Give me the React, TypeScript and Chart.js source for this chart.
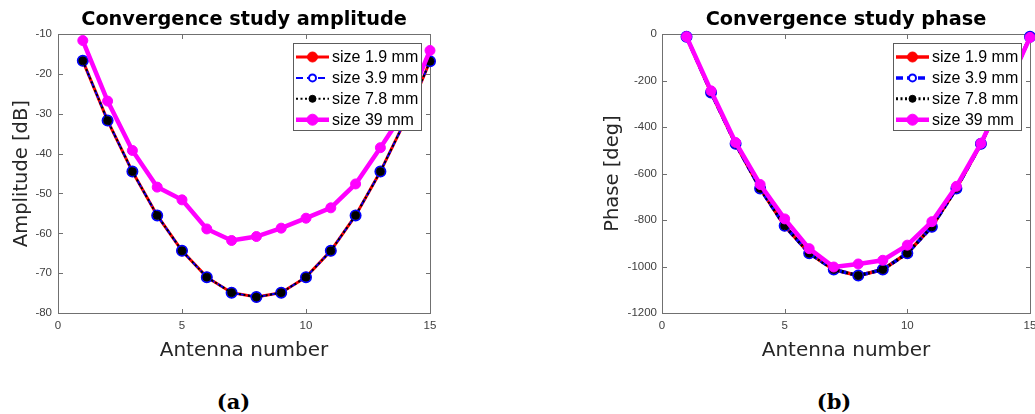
import React, { useEffect, useRef } from "react";
import { Chart, registerables } from "chart.js";

Chart.register(...registerables);

// ---- data ---------------------------------------------------------------
const antennaNumbers = [1, 2, 3, 4, 5, 6, 7, 8, 9, 10, 11, 12, 13, 14, 15];

const sizeLabels = ["size 1.9 mm", "size 3.9 mm", "size 7.8 mm", "size 39 mm"];

// Amplitude [dB]
const amplitude1p9mm = [-16.7, -31.7, -44.5, -55.5, -64.4, -71.0, -74.9, -76.0, -74.9, -71.0, -64.4, -55.5, -44.5, -31.7, -16.8];
const amplitude3p9mm = [-16.7, -31.7, -44.5, -55.5, -64.4, -71.0, -74.9, -76.0, -74.9, -71.0, -64.4, -55.5, -44.5, -31.7, -16.8];
const amplitude7p8mm = [-16.7, -31.7, -44.5, -55.5, -64.4, -71.0, -74.9, -76.0, -74.9, -71.0, -64.4, -55.5, -44.5, -31.7, -16.8];
const amplitude39mm = [-11.6, -26.8, -39.2, -48.4, -51.6, -58.9, -61.8, -60.8, -58.7, -56.2, -53.6, -47.6, -38.5, -29.0, -14.1];

// Phase [deg]
const phase1p9mm = [-11, -251, -472, -664, -825, -943, -1013, -1039, -1013, -943, -829, -664, -472, -251, -11];
const phase3p9mm = [-11, -251, -472, -664, -825, -943, -1013, -1039, -1013, -943, -829, -664, -472, -251, -11];
const phase7p8mm = [-11, -251, -472, -664, -825, -943, -1013, -1039, -1013, -943, -829, -664, -472, -251, -11];
const phase39mm = [-11, -244, -466, -647, -795, -923, -1002, -989, -973, -908, -807, -655, -470, -248, -14];

// Tick values
const antennaTicks = [0, 5, 10, 15];
const amplitudeTicks = [-80, -70, -60, -50, -40, -30, -20, -10];
const phaseTicks = [-1200, -1000, -800, -600, -400, -200, 0];

// ---- styling helpers ----------------------------------------------------
const TICK_FONT = { family: "'Liberation Sans', Arial, sans-serif", size: 11.5 };
const TICK_COLOR = "#404040";
const AXIS_COLOR = "#707070";
const CANVAS_HEIGHT = 363;

type Widths = { red: number; blue: number; black: number; magenta: number };

function makeDatasets(series: number[][], w: Widths) {
  const toPoints = (vals: number[]) => antennaNumbers.map((x, i) => ({ x, y: vals[i] }));
  return [
    {
      label: sizeLabels[0],
      data: toPoints(series[0]),
      borderColor: "#ff0000",
      backgroundColor: "#ff0000",
      borderWidth: w.red,
      pointRadius: 5,
      pointBackgroundColor: "#ff0000",
      pointBorderColor: "#ff0000",
      pointBorderWidth: 1,
      legendRadius: 5,
      order: 4,
    },
    {
      label: sizeLabels[1],
      data: toPoints(series[1]),
      borderColor: "#0000ff",
      backgroundColor: "#ffffff",
      borderWidth: w.blue,
      borderDash: [7, 4],
      pointRadius: 5,
      pointBackgroundColor: "#ffffff",
      pointBorderColor: "#0000ff",
      pointBorderWidth: 2,
      legendRadius: 3.5,
      order: 3,
    },
    {
      label: sizeLabels[2],
      data: toPoints(series[2]),
      borderColor: "#000000",
      backgroundColor: "#000000",
      borderWidth: w.black,
      borderDash: [2, 2.5],
      pointRadius: 4,
      pointBackgroundColor: "#000000",
      pointBorderColor: "#000000",
      pointBorderWidth: 1,
      legendRadius: 3.5,
      order: 2,
    },
    {
      label: sizeLabels[3],
      data: toPoints(series[3]),
      borderColor: "#ff00ff",
      backgroundColor: "#ff00ff",
      borderWidth: w.magenta,
      pointRadius: 5,
      pointBackgroundColor: "#ff00ff",
      pointBorderColor: "#ff00ff",
      pointBorderWidth: 1,
      legendRadius: 5.5,
      order: 1,
    },
  ];
}

// Full box around the plot area with inward-pointing tick marks on all sides.
const boxedAxes = {
  id: "boxedAxes",
  beforeDatasetsDraw(chart: any) {
    const { ctx, chartArea } = chart;
    const xs = chart.scales.x;
    const ys = chart.scales.y;
    const L = Math.round(chartArea.left) + 0.5;
    const R = Math.round(chartArea.right) + 0.5;
    const T = Math.round(chartArea.top) + 0.5;
    const B = Math.round(chartArea.bottom) + 0.5;
    const len = 4.5;
    ctx.save();
    ctx.strokeStyle = AXIS_COLOR;
    ctx.lineWidth = 1;
    ctx.strokeRect(L, T, R - L, B - T);
    ctx.beginPath();
    xs.ticks.forEach((t: any) => {
      const px = Math.round(xs.getPixelForValue(t.value)) + 0.5;
      ctx.moveTo(px, B);
      ctx.lineTo(px, B - len);
      ctx.moveTo(px, T);
      ctx.lineTo(px, T + len);
    });
    ys.ticks.forEach((t: any) => {
      const py = Math.round(ys.getPixelForValue(t.value)) + 0.5;
      ctx.moveTo(L, py);
      ctx.lineTo(L + len, py);
      ctx.moveTo(R, py);
      ctx.lineTo(R - len, py);
    });
    ctx.stroke();
    ctx.restore();
  },
};

// Legend drawn inside the upper-right corner of the plot area.
const insetLegend = {
  id: "insetLegend",
  afterDraw(chart: any) {
    const { ctx, chartArea } = chart;
    const w = 128;
    const h = 87;
    const x0 = Math.round(chartArea.right - 9.5 - w);
    const y0 = Math.round(chartArea.top + 8.5);
    ctx.save();
    ctx.fillStyle = "#ffffff";
    ctx.fillRect(x0, y0, w, h);
    ctx.strokeStyle = "#5c5c5c";
    ctx.lineWidth = 1;
    ctx.strokeRect(x0 + 0.5, y0 + 0.5, w, h);
    chart.data.datasets.forEach((ds: any, i: number) => {
      const cy = y0 + 14 + i * 20.9;
      ctx.setLineDash(ds.borderDash || []);
      ctx.strokeStyle = ds.borderColor;
      ctx.lineWidth = ds.borderWidth;
      ctx.beginPath();
      ctx.moveTo(x0 + 3, cy);
      ctx.lineTo(x0 + 36, cy);
      ctx.stroke();
      ctx.setLineDash([]);
      ctx.beginPath();
      ctx.arc(x0 + 19.5, cy, ds.legendRadius, 0, Math.PI * 2);
      ctx.fillStyle = ds.pointBackgroundColor;
      ctx.fill();
      ctx.lineWidth = ds.pointBorderWidth;
      ctx.strokeStyle = ds.pointBorderColor;
      ctx.stroke();
      ctx.fillStyle = "#000000";
      ctx.font = "16px 'Liberation Sans', Arial, sans-serif";
      ctx.textBaseline = "middle";
      ctx.textAlign = "left";
      ctx.fillText(ds.label, x0 + 39, cy + 1);
    });
    ctx.restore();
  },
};

type PanelSpec = {
  title: string;
  yTitle: string;
  yTitlePad: number;
  yMin: number;
  yMax: number;
  yTicks: number[];
  yWidth: number;
  yTickPad: number;
  series: number[][];
  widths: Widths;
};

const plainNumber = (v: number | string) => String(v);

function buildConfig(spec: PanelSpec): any {
  const fixedTicks = (vals: number[]) => (scale: any) => {
    scale.ticks = vals.map((v) => ({ value: v }));
  };
  return {
    type: "line",
    data: { datasets: makeDatasets(spec.series, spec.widths) },
    options: {
      animation: false,
      responsive: false,
      devicePixelRatio: 1,
      layout: { padding: 0 },
      datasets: { line: { clip: false } },
      elements: { line: { tension: 0 } },
      plugins: {
        legend: { display: false },
        tooltip: { enabled: false },
        title: {
          display: true,
          text: spec.title,
          color: "#000000",
          font: { family: "'DejaVu Sans', sans-serif", size: 19.3, weight: "bold", lineHeight: 1.2 },
          padding: { top: 8, bottom: 3 },
        },
      },
      scales: {
        x: {
          type: "linear",
          min: 0,
          max: 15,
          afterBuildTicks: fixedTicks(antennaTicks),
          afterFit: (s: any) => {
            s.height = 50;
          },
          grid: { display: false, drawTicks: false },
          border: { display: false },
          ticks: { font: TICK_FONT, color: TICK_COLOR, padding: 6, maxRotation: 0, callback: plainNumber },
          title: {
            display: true,
            text: "Antenna number",
            color: "#262626",
            font: { family: "'DejaVu Sans', sans-serif", size: 20, lineHeight: 1.2 },
            padding: { top: 0, bottom: 0 },
          },
        },
        y: {
          type: "linear",
          position: "left",
          min: spec.yMin,
          max: spec.yMax,
          afterBuildTicks: fixedTicks(spec.yTicks),
          afterFit: (s: any) => {
            s.width = spec.yWidth;
          },
          grid: { display: false, drawTicks: false },
          border: { display: false },
          ticks: { font: TICK_FONT, color: TICK_COLOR, padding: spec.yTickPad, callback: plainNumber },
          title: {
            display: true,
            text: spec.yTitle,
            color: "#262626",
            font: { family: "'DejaVu Sans', sans-serif", size: 19.5, lineHeight: 1.2 },
            padding: { top: spec.yTitlePad, bottom: 0 },
          },
        },
        yBalance: {
          type: "linear",
          position: "right",
          min: spec.yMin,
          max: spec.yMax,
          afterFit: (s: any) => {
            s.width = spec.yWidth;
          },
          grid: { display: false, drawTicks: false },
          border: { display: false },
          ticks: { display: false },
        },
      },
    },
    plugins: [boxedAxes, insetLegend],
  };
}

function ChartPanel({ left, width, spec }: { left: number; width: number; spec: PanelSpec }) {
  const ref = useRef<HTMLCanvasElement>(null);
  useEffect(() => {
    if (!ref.current) return;
    const chart = new Chart(ref.current, buildConfig(spec));
    return () => chart.destroy();
  }, []);
  return (
    <canvas
      ref={ref}
      width={width}
      height={CANVAS_HEIGHT}
      style={{ position: "absolute", left, top: 0, width, height: CANVAS_HEIGHT }}
    />
  );
}

const amplitudeSpec: PanelSpec = {
  title: "Convergence study amplitude",
  yTitle: "Amplitude [dB]",
  yTitlePad: 10.5,
  yMin: -80,
  yMax: -10,
  yTicks: amplitudeTicks,
  yWidth: 58,
  yTickPad: 6,
  series: [amplitude1p9mm, amplitude3p9mm, amplitude7p8mm, amplitude39mm],
  widths: { red: 3, blue: 2, black: 2, magenta: 4.5 },
};

const phaseSpec: PanelSpec = {
  title: "Convergence study phase",
  yTitle: "Phase [deg]",
  yTitlePad: 21.5,
  yMin: -1200,
  yMax: 0,
  yTicks: phaseTicks,
  yWidth: 82,
  yTickPad: 5,
  series: [phase1p9mm, phase3p9mm, phase7p8mm, phase39mm],
  widths: { red: 3.5, blue: 3.5, black: 3, magenta: 4.5 },
};

const captionStyle: React.CSSProperties = {
  position: "absolute",
  top: 390,
  width: 80,
  textAlign: "center",
  fontFamily: "'DejaVu Serif', serif",
  fontWeight: "bold",
  fontSize: 21,
  lineHeight: "24px",
  color: "#000",
};

export default function App() {
  return (
    <div
      style={{
        position: "fixed",
        left: 0,
        top: 0,
        width: 1035,
        height: 414,
        overflow: "hidden",
        background: "#ffffff",
      }}
    >
      <ChartPanel left={0} width={488} spec={amplitudeSpec} />
      <ChartPanel left={580} width={532} spec={phaseSpec} />
      <div style={{ ...captionStyle, left: 233.5 - 40 }}>(a)</div>
      <div style={{ ...captionStyle, left: 834 - 40 }}>(b)</div>
    </div>
  );
}
